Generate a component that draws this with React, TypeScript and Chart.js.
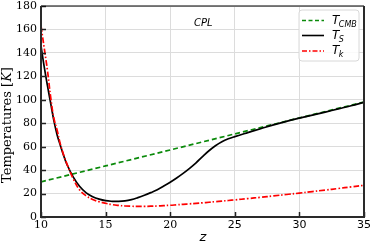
import React, { useEffect, useRef } from 'react';
import { Chart, registerables } from 'chart.js';
Chart.register(...registerables);

const zGrid = [10, 10.25, 10.5, 10.75, 11, 11.25, 11.5, 11.75, 12, 12.5, 13, 13.5, 14, 14.5, 15, 15.5, 16, 16.5, 17, 17.5, 18, 18.5, 19, 19.5, 20, 20.5, 21, 21.5, 22, 22.5, 23, 23.5, 24, 24.5, 25, 26, 27, 28, 29, 30, 31, 32, 33, 34, 35];
const tSpin = [146, 128, 112, 97, 82, 70, 61, 52.5, 45, 34, 26, 20.6, 17.3, 15.2, 13.9, 13.4, 13.3, 13.7, 14.8, 16.5, 18.5, 20.8, 23.3, 26.4, 29.7, 33.3, 37.2, 41.5, 46.2, 51.5, 56.5, 60.8, 64.2, 66.7, 68.6, 72, 75.3, 78.6, 81.6, 84.3, 86.9, 89.5, 92.2, 94.9, 97.8];
const tKin = [163, 144, 125, 102, 84, 74, 62, 53, 45.5, 32.5, 23, 18, 15, 13, 11.7, 10.6, 9.9, 9.4, 9.2, 9.1, 9.1, 9.2, 9.4, 9.7, 10, 10.4, 10.8, 11.2, 11.7, 12.1, 12.6, 13.1, 13.6, 14.1, 14.6, 15.7, 16.8, 18, 19.2, 20.4, 21.7, 23, 24.3, 25.7, 27];
const zCmb = [10, 15, 20, 25, 30, 35];
const tCmb = [30.0, 43.6, 57.2, 70.9, 84.5, 98.1];

const xTickValues = [10, 15, 20, 25, 30, 35];
const yTickValues = [0, 20, 40, 60, 80, 100, 120, 140, 160, 180];

const legendMain = ['T', 'T', 'T'];
const legendSub = ['CMB', 'S', 'k'];
const annotationText = 'CPL';
const xTitle = 'z';
const yTitleA = 'Temperatures [';
const yTitleB = 'K';
const yTitleC = ']';

const GREEN = '#0a8a0a';
const RED = '#ff0000';
const BLACK = '#000000';

const decor = {
  id: 'decor',
  afterDraw(chart: any) {
    const { ctx, chartArea: a, scales } = chart;
    const xs = scales.x;
    const ys = scales.y;
    ctx.save();
    ctx.strokeStyle = '#222';
    ctx.lineWidth = 1.5;
    xTickValues.forEach((v) => {
      const px = Math.round(xs.getPixelForValue(v)) + 0.5;
      ctx.beginPath();
      ctx.moveTo(px, a.bottom);
      ctx.lineTo(px, a.bottom - 5);
      ctx.stroke();
    });
    yTickValues.forEach((v) => {
      const py = Math.round(ys.getPixelForValue(v)) + 0.5;
      ctx.beginPath();
      ctx.moveTo(a.left, py);
      ctx.lineTo(a.left + 5, py);
      ctx.stroke();
    });
    ctx.strokeStyle = '#000';
    ctx.lineWidth = 1.2;
    ctx.beginPath();
    ctx.moveTo(a.left, a.top);
    ctx.lineTo(a.right, a.top);
    ctx.stroke();
    ctx.strokeStyle = '#2a2a2a';
    ctx.lineWidth = 2;
    ctx.beginPath();
    ctx.moveTo(a.left, a.top);
    ctx.lineTo(a.left, a.bottom);
    ctx.lineTo(a.right, a.bottom);
    ctx.lineTo(a.right, a.top);
    ctx.stroke();

    ctx.fillStyle = '#000';
    ctx.font = 'italic 10px "DejaVu Sans"';
    ctx.textAlign = 'left';
    ctx.textBaseline = 'middle';
    ctx.fillText(annotationText, 194, 23);

    const bx = 299, by = 10, bw = 60, bh = 51, r = 3;
    ctx.beginPath();
    ctx.moveTo(bx + r, by);
    ctx.lineTo(bx + bw - r, by);
    ctx.quadraticCurveTo(bx + bw, by, bx + bw, by + r);
    ctx.lineTo(bx + bw, by + bh - r);
    ctx.quadraticCurveTo(bx + bw, by + bh, bx + bw - r, by + bh);
    ctx.lineTo(bx + r, by + bh);
    ctx.quadraticCurveTo(bx, by + bh, bx, by + bh - r);
    ctx.lineTo(bx, by + r);
    ctx.quadraticCurveTo(bx, by, bx + r, by);
    ctx.closePath();
    ctx.fillStyle = 'rgba(255,255,255,0.85)';
    ctx.fill();
    ctx.strokeStyle = '#d8d8d8';
    ctx.lineWidth = 1;
    ctx.stroke();

    const rows = [20.5, 35.5, 51];
    const colors = [GREEN, BLACK, RED];
    const dashes = [[4, 2.5], [], [5, 2, 1.5, 2]];
    rows.forEach((ry, i) => {
      ctx.strokeStyle = colors[i];
      ctx.lineWidth = 1.6;
      ctx.setLineDash(dashes[i]);
      ctx.beginPath();
      ctx.moveTo(302, ry);
      ctx.lineTo(324, ry);
      ctx.stroke();
      ctx.setLineDash([]);
      ctx.fillStyle = '#000';
      ctx.font = 'italic 12px "DejaVu Sans"';
      ctx.textBaseline = 'alphabetic';
      ctx.fillText(legendMain[i], 332, ry + 3);
      const w = ctx.measureText(legendMain[i]).width;
      ctx.font = 'italic 8px "DejaVu Sans"';
      ctx.fillText(legendSub[i], 332 + w - 0.5, ry + 6);
    });

    ctx.fillStyle = '#000';
    ctx.font = 'italic 13px "DejaVu Sans"';
    ctx.textAlign = 'center';
    ctx.textBaseline = 'middle';
    ctx.fillText(xTitle, 203, 238);

    ctx.translate(8, 125);
    ctx.rotate(-Math.PI / 2);
    ctx.textAlign = 'left';
    const fA = '13px "DejaVu Serif"';
    const fB = 'italic 13px "DejaVu Serif"';
    ctx.font = fA;
    const wA = ctx.measureText(yTitleA).width;
    const wC = ctx.measureText(yTitleC).width;
    ctx.font = fB;
    const wB = ctx.measureText(yTitleB).width;
    const total = wA + wB + wC;
    const x0 = -total / 2;
    ctx.font = fA;
    ctx.fillText(yTitleA, x0, 0);
    ctx.font = fB;
    ctx.fillText(yTitleB, x0 + wA, 0);
    ctx.font = fA;
    ctx.fillText(yTitleC, x0 + wA + wB, 0);
    ctx.restore();
  },
};

export default function App() {
  const ref = useRef<HTMLCanvasElement | null>(null);
  useEffect(() => {
    document.body.style.margin = '0';
    const canvas = ref.current!;
    const mk = (zs: number[], ts: number[]) => zs.map((z, i) => ({ x: z, y: ts[i] }));
    const chart = new Chart(canvas, {
      type: 'line',
      data: {
        datasets: [
          {
            label: 'T_CMB',
            data: mk(zCmb, tCmb),
            borderColor: GREEN,
            borderWidth: 1.7,
            borderDash: [5, 3],
            pointRadius: 0,
            fill: false,
            order: 3,
          },
          {
            label: 'T_S',
            data: mk(zGrid, tSpin),
            borderColor: BLACK,
            borderWidth: 1.7,
            pointRadius: 0,
            tension: 0.4,
            fill: false,
            order: 2,
          },
          {
            label: 'T_k',
            data: mk(zGrid, tKin),
            borderColor: RED,
            borderWidth: 1.7,
            borderDash: [6, 2, 1.5, 2],
            pointRadius: 0,
            tension: 0.4,
            fill: false,
            order: 1,
          },
        ],
      },
      options: {
        responsive: false,
        animation: false,
        layout: { padding: { left: 0, right: 10, top: 6, bottom: 0 } },
        plugins: { legend: { display: false }, tooltip: { enabled: false } },
        scales: {
          x: {
            type: 'linear',
            min: 10,
            max: 35,
            afterBuildTicks: (s: any) => { s.ticks = xTickValues.map((v) => ({ value: v })); },
            afterFit: (s: any) => { s.height = 31; s.paddingLeft = 0; s.paddingRight = 0; },
            ticks: {
              color: '#000',
              padding: 2,
              maxRotation: 0,
              font: (c: any) => ({ family: c.index < 3 ? 'DejaVu Serif' : 'DejaVu Sans', size: 11 }),
            },
            grid: { color: '#dcdcdc', lineWidth: 1, drawTicks: false },
            border: { display: false },
          },
          y: {
            min: 0,
            max: 180,
            afterBuildTicks: (s: any) => { s.ticks = yTickValues.map((v) => ({ value: v })); },
            afterFit: (s: any) => { s.width = 41; s.paddingTop = 0; s.paddingBottom = 0; },
            ticks: {
              color: '#000',
              padding: 4,
              font: { family: 'DejaVu Serif', size: 11 },
            },
            grid: { color: '#dcdcdc', lineWidth: 1, drawTicks: false },
            border: { display: false },
          },
        },
      },
      plugins: [decor],
    } as any);
    return () => chart.destroy();
  }, []);
  return (
    <div style={{ width: 374, height: 248 }}>
      <canvas ref={ref} width={374} height={248} style={{ display: 'block' }} />
    </div>
  );
}
